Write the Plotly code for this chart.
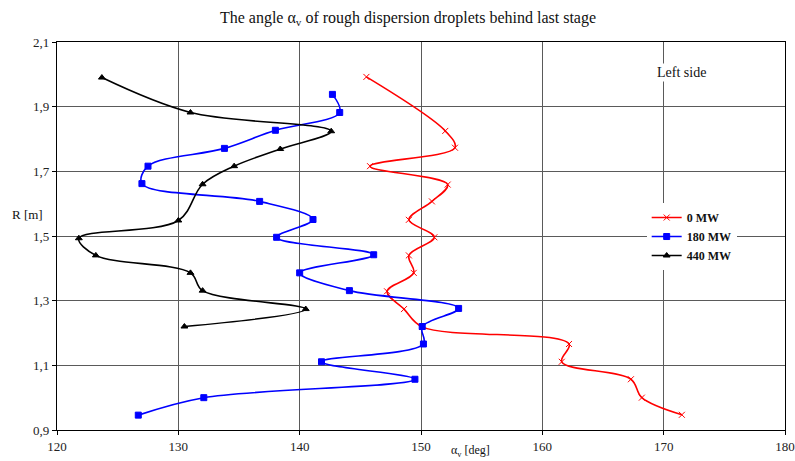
import plotly.graph_objects as go

# Droplet angle alpha_v [deg] versus radius R [m], three unit loads
r_0mw = [1.992, 1.825, 1.773, 1.716, 1.659, 1.607, 1.550, 1.496, 1.440, 1.386,
         1.329, 1.274, 1.219, 1.166, 1.111, 1.057, 1.000, 0.947]
a_0mw = [145.5, 152.0, 152.8, 145.8, 152.2, 150.9, 149.0, 151.1, 149.0, 149.4,
         147.2, 148.6, 150.1, 162.2, 161.6, 167.3, 168.2, 171.5]

r_180mw = [1.938, 1.882, 1.827, 1.771, 1.716, 1.662, 1.607, 1.551, 1.496, 1.442,
           1.386, 1.331, 1.276, 1.220, 1.166, 1.111, 1.057, 1.000, 0.946]
a_180mw = [142.7, 143.3, 138.0, 133.8, 127.5, 127.0, 136.7, 141.1, 138.1, 146.1,
           140.0, 144.1, 153.1, 150.1, 150.2, 141.8, 149.5, 132.1, 126.7]

r_440mw = [1.990, 1.882, 1.824, 1.769, 1.716, 1.660, 1.548, 1.493, 1.440, 1.386,
           1.331, 1.274, 1.220]
a_440mw = [123.7, 131.0, 142.6, 138.4, 134.6, 132.0, 130.0, 121.8, 123.2, 131.0,
           132.0, 140.5, 130.5]

x_ticks = [120, 130, 140, 150, 160, 170, 180]
y_ticks = [0.9, 1.1, 1.3, 1.5, 1.7, 1.9, 2.1]
y_tick_text = ["0,9", "1,1", "1,3", "1,5", "1,7", "1,9", "2,1"]

SERIF = "Liberation Serif, Times New Roman, serif"

fig = go.Figure()

series = [
    ("0 MW", a_0mw, r_0mw, "#ff0000", "x-thin-open", 6),
    ("180 MW", a_180mw, r_180mw, "#0000ff", "square", 6),
    ("440 MW", a_440mw, r_440mw, "#000000", "triangle-up", 6),
]
for name, xs, ys, color, symbol, size in series:
    fig.add_trace(go.Scatter(
        x=xs, y=ys, name=name, mode="lines+markers",
        line=dict(color=color, width=1.6, shape="spline", smoothing=1.0),
        marker=dict(symbol=symbol, size=size, color=color,
                    line=dict(color=color, width=1)),
    ))

axis_common = dict(
    showline=True, linecolor="#000000", linewidth=1.2, mirror=True,
    showgrid=True, gridcolor="#5a5a5a", gridwidth=1,
    ticks="outside", ticklen=4, tickcolor="#000000",
    tickfont=dict(family=SERIF, size=13, color="#222222"),
    zeroline=False, automargin=False,
)

fig.update_xaxes(range=[120, 180], tickvals=x_ticks, **axis_common)
fig.update_yaxes(range=[0.9, 2.1], tickvals=y_ticks, ticktext=y_tick_text,
                 **axis_common)

fig.update_layout(
    width=795, height=461,
    margin=dict(l=57, r=10, t=42, b=31),
    paper_bgcolor="white", plot_bgcolor="white",
    title=dict(text="The angle α<sub>v</sub> of rough dispersion droplets behind last stage",
               x=408 / 795, xanchor="center", y=1 - 17 / 461, yanchor="middle",
               font=dict(family=SERIF, size=16, color="#111111")),
    showlegend=True,
    legend=dict(x=0.81, y=0.585, xanchor="left", yanchor="top",
                bgcolor="white", borderwidth=0,
                font=dict(family=SERIF, size=12, color="#111111", weight="bold"),
                itemwidth=30, tracegroupgap=0),
    annotations=[
        dict(text="Left side", xref="x", yref="y", x=171.5, y=2.007,
             showarrow=False, bgcolor="white",
             font=dict(family=SERIF, size=14, color="#111111")),
        dict(text="R [m]", xref="paper", yref="paper", x=-0.0165, y=(430 - 214) / 388,
             xanchor="right", yanchor="middle", showarrow=False,
             font=dict(family=SERIF, size=13, color="#111111")),
        dict(text="α<sub>v</sub> [deg]", xref="paper", yref="paper",
             x=(470 - 57) / 728, y=-0.079, xanchor="center", yanchor="bottom",
             showarrow=False,
             font=dict(family=SERIF, size=12, color="#111111")),
    ],
)

fig.write_html("out.html")
